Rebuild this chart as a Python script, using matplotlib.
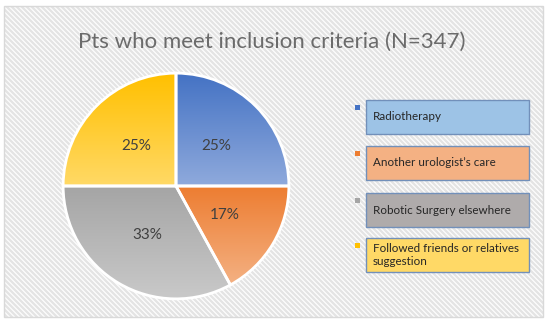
import matplotlib
matplotlib.use("Agg")
import matplotlib.pyplot as plt
import numpy as np
from matplotlib.colors import to_rgba
from matplotlib.patches import Rectangle

TITLE = "Pts who meet inclusion criteria (N=347)"
CATEGORIES = [
    "Radiotherapy",
    "Another urologist\u2019s care",
    "Robotic Surgery elsewhere",
    "Followed friends or relatives\nsuggestion",
]
SHARES = [25, 17, 33, 25]

TOP_COLORS = ["#4472C4", "#ED7D31", "#A5A5A5", "#FFC000"]
BOTTOM_COLORS = ["#8FAADC", "#F4B183", "#C9C9C9", "#FFD966"]
BOX_FILLS = ["#9DC3E6", "#F4B183", "#AFABAB", "#FFD966"]

plt.rcParams["font.family"] = ["Lato", "DejaVu Sans"]

W, H = 550, 324
fig = plt.figure(figsize=(W / 100, H / 100), dpi=100)
fig.patch.set_facecolor("white")

# background layer in pixel coordinates
bg = fig.add_axes([0, 0, 1, 1])
bg.set_xlim(0, W)
bg.set_ylim(H, 0)
bg.axis("off")
frame = Rectangle((4, 6), 539, 311, facecolor="white", edgecolor="none", zorder=0)
bg.add_patch(frame)
# diagonal stripe pattern of the chart area
for s in np.arange(-330, 560, 5):
    ln, = bg.plot([s, s + 330], [0, 330], color="#E4E4E4", linewidth=1.7,
                  solid_capstyle="butt", zorder=0.5)
    ln.set_clip_path(frame)
bg.add_patch(Rectangle((4, 6), 539, 311, facecolor="none", edgecolor="#D9D9D9",
                       linewidth=1.0, zorder=1))
bg.text(272, 42, TITLE, ha="center", va="center", fontsize=16, color="#6B6B6B")

# legend boxes
box_tops = [100, 146, 193, 238]
box_h = 34
for i, (label, top) in enumerate(zip(CATEGORIES, box_tops)):
    bg.add_patch(Rectangle((366, top), 163, box_h, facecolor=BOX_FILLS[i],
                           edgecolor="#7290BA", linewidth=1.0, zorder=2))
    bg.add_patch(Rectangle((355, top + 5), 5, 5, facecolor=TOP_COLORS[i],
                           edgecolor="none", zorder=2))
    bg.text(373, top + box_h / 2, label, ha="left", va="center", fontsize=8.4,
            color="#262626", linespacing=1.2, zorder=3)

# pie
cx, cy, r = 176, 186, 114
ax = fig.add_axes([(cx - r) / W, (H - cy - r) / H, 2 * r / W, 2 * r / H])
ax.set_facecolor("none")
wedges, _, autotexts = ax.pie(
    SHARES, startangle=90, counterclock=False, radius=1,
    autopct="%d%%", pctdistance=0.5,
    wedgeprops={"edgecolor": "white", "linewidth": 2},
    textprops={"fontsize": 11, "color": "#404040"},
)
for i, w in enumerate(wedges):
    ang = np.deg2rad(np.linspace(w.theta1, w.theta2, 100))
    xs = np.concatenate([[0], np.cos(ang)])
    ys = np.concatenate([[0], np.sin(ang)])
    top = np.array(to_rgba(TOP_COLORS[i]))
    bot = np.array(to_rgba(BOTTOM_COLORS[i]))
    t = np.linspace(0, 1, 200)[:, None]
    grad = (top * (1 - t) + bot * t)[:, None, :]
    im = ax.imshow(grad, extent=(xs.min(), xs.max(), ys.min(), ys.max()),
                   origin="upper", aspect="auto", zorder=1, interpolation="bilinear")
    im.set_clip_path(w)
    w.set_facecolor("none")
    w.set_zorder(2)
for t in autotexts:
    t.set_zorder(3)
ax.set_xlim(-1.01, 1.01)
ax.set_ylim(-1.01, 1.01)
ax.set_aspect("equal")
ax.axis("off")

fig.savefig("out.png", dpi=100, facecolor="white")
